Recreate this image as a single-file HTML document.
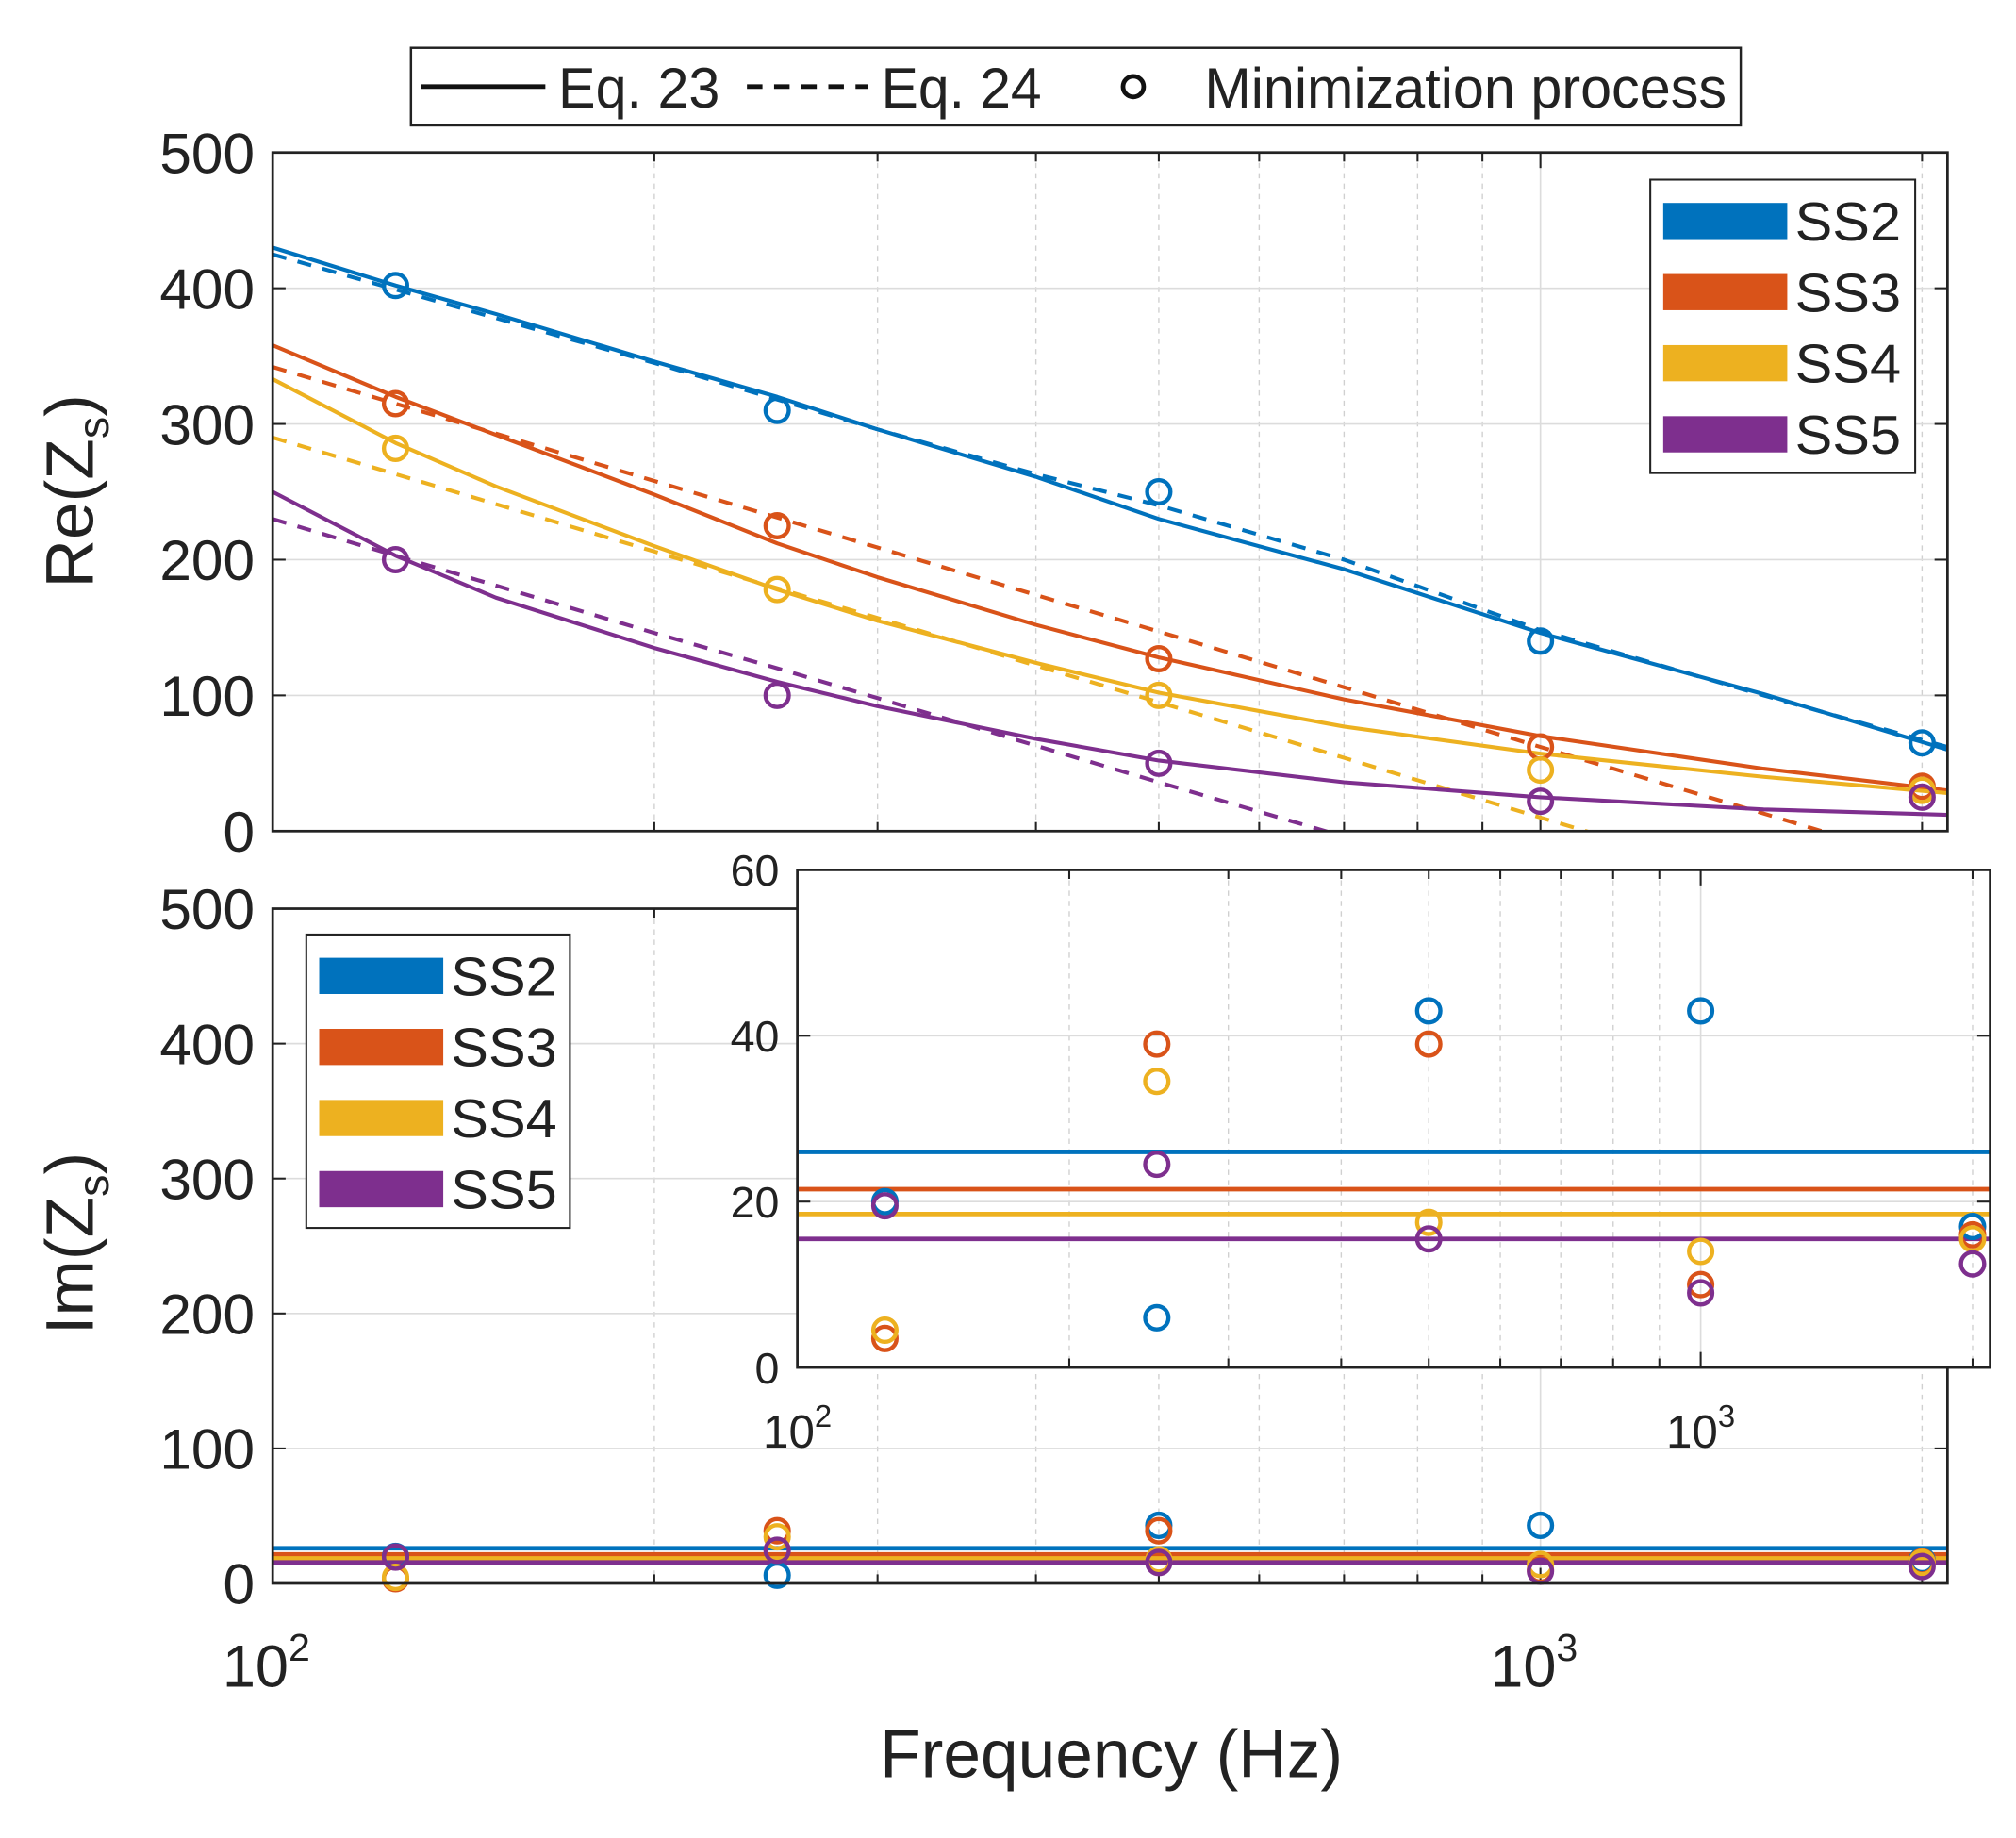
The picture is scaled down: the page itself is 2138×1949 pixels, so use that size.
<!DOCTYPE html>
<html><head><meta charset="utf-8"><style>
html,body{margin:0;padding:0;background:#fff;overflow:hidden;}
svg{display:block;}
text{font-family:"Liberation Sans",Arial,sans-serif;fill:#222;}
</style></head><body>
<svg id="chart" width="2138" height="1949" viewBox="0 0 1560 1422" preserveAspectRatio="none" xmlns="http://www.w3.org/2000/svg">
<defs>
<clipPath id="clipRe"><rect x="211" y="118" width="1296" height="525"/></clipPath>
<clipPath id="clipIm"><rect x="211" y="703" width="1296" height="522"/></clipPath>
<clipPath id="clipIn"><rect x="617" y="673" width="923" height="385"/></clipPath>
</defs>
<g id="root"></g>
</svg>
<script>
const series = ['SS2','SS3','SS4','SS5'];
const colors = ['#0072BD','#D95319','#EDB120','#7E2F8E'];
const measFreq = [125,250,500,1000,2000];
const curveFreq = [100,125,150,200,250,300,400,500,700,1000,1500,2094];
const reEq23SS2 = [430,402,381,346,320,296,261,230,193,146,101,60];
const reEq23SS3 = [358,320,292,248,212,187,152,128,97,70,46,30];
const reEq23SS4 = [333,286,254,210,178,155,124,102,77,57,40,28];
const reEq23SS5 = [250,203,172,135,110,92,68,52,36,25,16,12];
const reEq24SS2 = [425,399,378,345,318,296,263,240,200,148,100,62];
const reEq24SS3 = [342,315,293,258,231,209,174,147,106,62,13,-28];
const reEq24SS4 = [290,263,241,206,179,157,122,95,54,10,-39,-80];
const reEq24SS5 = [230,203,181,146,120,98,63,36,-4,-48,-97,-138];
const reMinSS2 = [402,310,250,140,65];
const reMinSS3 = [315,225,127,62,33];
const reMinSS4 = [282,178,100,45,30];
const reMinSS5 = [200,100,50,22,25];
const imEq23 = [26,21.5,18.5,15.5];
const imMinSS2 = [20,6,43,43,17];
const imMinSS3 = [3.5,39,39,10,16];
const imMinSS4 = [4.5,34.5,17.5,14,15.5];
const imMinSS5 = [19.5,24.5,15.5,9,12.5];
const reTicks = [0,100,200,300,400,500];
const insetTicks = [0,20,40,60];

const NS='http://www.w3.org/2000/svg';
const root=document.getElementById('root');
function el(tag,attrs,parent){const e=document.createElementNS(NS,tag);for(const k in attrs)e.setAttribute(k,attrs[k]);(parent||root).appendChild(e);return e;}
function makeAxis(x0,x1,lmin,lmax,y0,y1,vmin,vmax){
  return {x:f=>x0+(Math.log10(f)-lmin)/(lmax-lmin)*(x1-x0), y:v=>y0-(v-vmin)/(vmax-vmin)*(y0-y1)};
}
const LMAX=2+1296/981;
const axRe=makeAxis(211,1507,2,LMAX,643,118,0,500);
const axIm=makeAxis(211,1507,2,LMAX,1225,703,0,500);
const axIn=makeAxis(617,1540,2,2+923/699,1058,673,0,60);
const minor=[200,300,400,500,600,700,800,900,2000];

function drawGrid(ax,box,ticks,g,fs){
  el('rect',{x:box[0],y:box[1],width:box[2]-box[0],height:box[3]-box[1],fill:'#fff'},g);
  minor.forEach(f=>{const x=ax.x(f);if(x<box[2])el('line',{x1:x,x2:x,y1:box[1],y2:box[3],stroke:'#d0d0d0','stroke-width':1,'stroke-dasharray':'4 4'},g);});
  [100,1000].forEach(f=>{const x=ax.x(f);el('line',{x1:x,x2:x,y1:box[1],y2:box[3],stroke:'#dcdcdc','stroke-width':1.2},g);});
  ticks.forEach(v=>{const y=ax.y(v);el('line',{x1:box[0],x2:box[2],y1:y,y2:y,stroke:'#dcdcdc','stroke-width':1.2},g);
    el('line',{x1:box[0],x2:box[0]+10,y1:y,y2:y,stroke:'#222','stroke-width':1.5},g);
    el('line',{x1:box[2],x2:box[2]-10,y1:y,y2:y,stroke:'#222','stroke-width':1.5},g);
    const t=el('text',{x:box[0]-14,y:y+fs*0.36,'font-size':fs,'text-anchor':'end'},g);t.textContent=v;
    
    
  });
  [100,1000].concat(minor).forEach(f=>{const x=ax.x(f);if(x<box[2]){const l=(f===100||f===1000)?12:7;
    el('line',{x1:x,x2:x,y1:box[3],y2:box[3]-l,stroke:'#222','stroke-width':1.5},g);
    el('line',{x1:x,x2:x,y1:box[1],y2:box[1]+l,stroke:'#222','stroke-width':1.5},g);}});
}
function drawFrame(box,g){el('rect',{x:box[0],y:box[1],width:box[2]-box[0],height:box[3]-box[1],fill:'none',stroke:'#222','stroke-width':2},g);}
function path(ax,fs,vs){return fs.map((f,i)=>(i?'L':'M')+ax.x(f).toFixed(1)+','+ax.y(vs[i]).toFixed(1)).join('');}
function circles(ax,vals,color,g,r){measFreq.forEach((f,i)=>{const c=el('circle',{cx:ax.x(f),cy:ax.y(vals[i]),r:r,fill:'none',stroke:color,'stroke-width':3.2},g);
  
  });}
function legend(x,y,w,h,g){
  el('rect',{x:x,y:y,width:w,height:h,fill:'#fff',stroke:'#222','stroke-width':1.5},g);
  series.forEach((s,i)=>{const yy=y+32+i*55;
    const r=el('rect',{x:x+10,y:yy-14,width:96,height:28,fill:colors[i]},g);
    
    
    const t=el('text',{x:x+112,y:yy+15,'font-size':42,textLength:82,lengthAdjust:'spacingAndGlyphs'},g);t.textContent=s;
    
    });
}

// Top: Re
const gRe=el('g',{});


const boxRe=[211,118,1507,643];
drawGrid(axRe,boxRe,reTicks,gRe,44);
const cRe=el('g',{'clip-path':'url(#clipRe)'},gRe);
const re23=[reEq23SS2,reEq23SS3,reEq23SS4,reEq23SS5], re24=[reEq24SS2,reEq24SS3,reEq24SS4,reEq24SS5], reMin=[reMinSS2,reMinSS3,reMinSS4,reMinSS5];
series.forEach((s,i)=>{
  const p=el('path',{d:path(axRe,curveFreq,re23[i]),fill:'none',stroke:colors[i],'stroke-width':3,'stroke-linejoin':'round'},cRe);
  
  
  const q=el('path',{d:path(axRe,curveFreq,re24[i]),fill:'none',stroke:colors[i],'stroke-width':3,'stroke-dasharray':'11 9'},cRe);
  
  
});
series.forEach((s,i)=>circles(axRe,reMin[i],colors[i],gRe,9));
drawFrame(boxRe,gRe);
legend(1277,139,205,227,gRe);

// Bottom: Im
const gIm=el('g',{});


const boxIm=[211,703,1507,1225];
drawGrid(axIm,boxIm,reTicks,gIm,44);
const imMin=[imMinSS2,imMinSS3,imMinSS4,imMinSS5];
const cIm=el('g',{'clip-path':'url(#clipIm)'},gIm);
series.forEach((s,i)=>{const y=axIm.y(imEq23[i]);const l=el('line',{x1:211,x2:1507,y1:y,y2:y,stroke:colors[i],'stroke-width':3.5},cIm);
  
  });
series.forEach((s,i)=>circles(axIm,imMin[i],colors[i],gIm,9));
drawFrame(boxIm,gIm);
[[100,'2'],[1000,'3']].forEach(([f,e])=>{const t=el('text',{x:axIm.x(f)-5,y:1305,'font-size':46,'text-anchor':'middle'},gIm);
  t.innerHTML='10<tspan dy="-20" font-size="30">'+e+'</tspan>';
  
  });
legend(237,723,204,227,gIm);

// Inset
const gIn=el('g',{});


const boxIn=[617,673,1540,1058];
drawGrid(axIn,boxIn,insetTicks,gIn,34);
const cIn=el('g',{'clip-path':'url(#clipIn)'},gIn);
series.forEach((s,i)=>{const y=axIn.y(imEq23[i]);const l=el('line',{x1:617,x2:1540,y1:y,y2:y,stroke:colors[i],'stroke-width':3.5},cIn);
  
  });
series.forEach((s,i)=>circles(axIn,imMin[i],colors[i],cIn,9));
drawFrame(boxIn,gIn);
[[100,'2'],[1000,'3']].forEach(([f,e])=>{const t=el('text',{x:axIn.x(f),y:1120,'font-size':36,'text-anchor':'middle'},gIn);
  t.innerHTML='10<tspan dy="-16" font-size="24">'+e+'</tspan>';
  
  });

// Labels
function label(txt,x,y,rot,name){const t=el('text',{x:x,y:y,'font-size':52,'text-anchor':'middle',transform:rot?'rotate(-90 '+x+' '+y+')':''});t.innerHTML=txt;
  
  }
label('Re(Z<tspan font-size="34" dy="12">s</tspan><tspan dy="-12">)</tspan>',72,380,true,'re-y-axis-title');
label('Im(Z<tspan font-size="34" dy="12">s</tspan><tspan dy="-12">)</tspan>',72,962,true,'im-y-axis-title');
label('Frequency (Hz)',860,1375,false,'x-axis-title');

// Top legend
const gL=el('g',{});


el('rect',{x:318,y:37,width:1029,height:60,fill:'#fff',stroke:'#222','stroke-width':1.8},gL);
el('line',{x1:326,x2:422,y1:67,y2:67,stroke:'#111','stroke-width':3.5},gL);
el('line',{x1:578,x2:672,y1:67,y2:67,stroke:'#111','stroke-width':3.5,'stroke-dasharray':'12 9'},gL);
el('circle',{cx:877,cy:67,r:8,fill:'none',stroke:'#111','stroke-width':3.5},gL);
[['Eq. 23',432,125,'legend-eq23'],['Eq. 24',682,124,'legend-eq24'],['Minimization process',932,404,'legend-minimization']].forEach(([s,x,w,n])=>{
  const t=el('text',{x:x,y:83,'font-size':44,textLength:w,lengthAdjust:'spacingAndGlyphs'},gL);t.textContent=s;
  
  });
</script>
</body></html>
